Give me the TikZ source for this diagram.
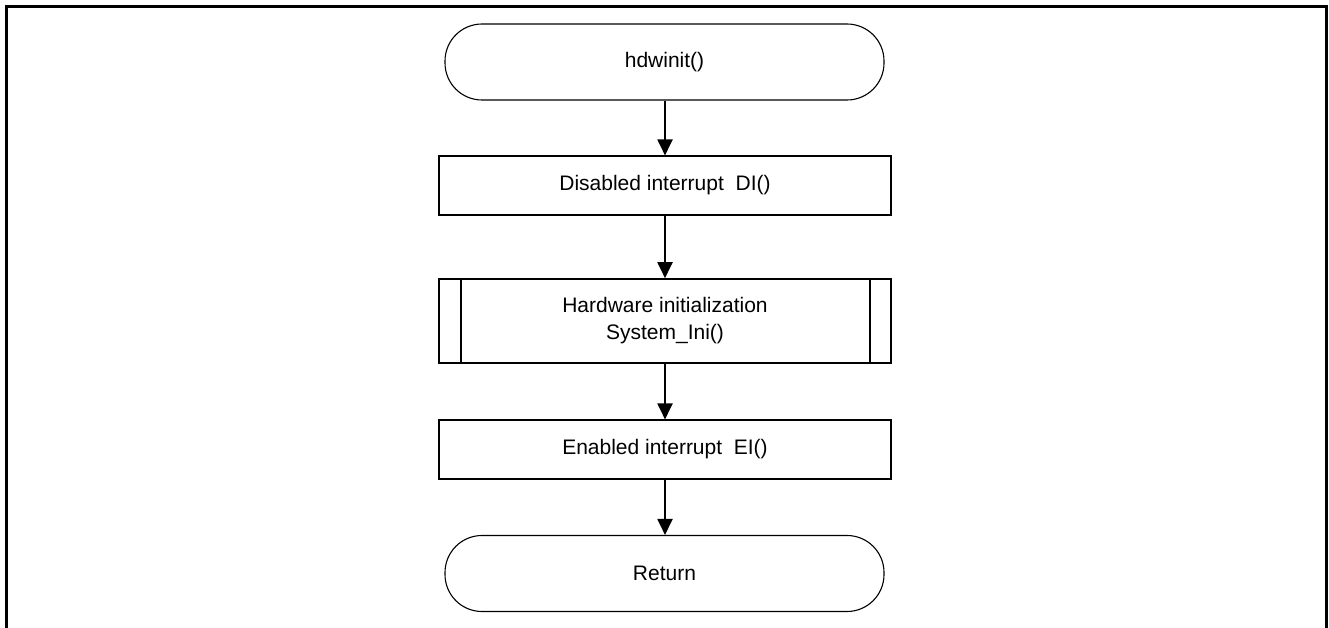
\documentclass[tikz,border=0pt]{standalone}
\usepackage{fontspec}
\setmainfont{Liberation Sans}
\usetikzlibrary{arrows.meta}
\tikzset{
  term/.style={draw, line width=1.1pt, rectangle, rounded corners=37pt,
    minimum width=439pt, minimum height=76pt, inner sep=0pt,
    font=\fontsize{21}{27}\selectfont},
  procbox/.style={draw, line width=1.1pt, rectangle,
    minimum width=452pt, minimum height=59pt, inner sep=0pt,
    font=\fontsize{21}{27}\selectfont},
  subproc/.style={procbox, line width=1.6pt, minimum height=84pt, align=center},
  flow/.style={line width=2pt, -{Triangle[width=15pt,length=16pt]}},
  frameline/.style={line width=3pt, line join=miter}
}
\begin{document}
\begin{tikzpicture}[x=1pt,y=-1pt]
  \useasboundingbox (0,0) rectangle (1329,628);
  % page frame, open at the bottom
  \coordinate (fbl) at (6.2,640);
  \coordinate (ftl) at (6.2,7);
  \coordinate (ftr) at (1326.5,7);
  \coordinate (fbr) at (1326.5,640);
  \draw[frameline] (fbl) -- (ftl) -- (ftr) -- (fbr);

  % flow chart
  \node[term] (start) at (664.5,62) {hdwinit()};
  \node[procbox] (di) at (665,185.5) {Disabled interrupt\ \ DI()};
  \node[subproc] (hw) at (665,321) {Hardware initialization\\System\_Ini()};
  \draw[line width=1.6pt] ([xshift=23pt]hw.north west) -- ([xshift=23pt]hw.south west);
  \draw[line width=1.6pt] ([xshift=-22pt]hw.north east) -- ([xshift=-22pt]hw.south east);
  \node[procbox] (ei) at (665,449.5) {Enabled interrupt\ \ EI()};
  \node[term] (ret) at (664.5,573.5) {Return};

  \draw[flow] (start.south -| di.north) -- (di.north);
  \draw[flow] (di.south) -- (hw.north);
  \draw[flow] (hw.south) -- (ei.north);
  \draw[flow] (ei.south) -- (ret.north -| ei.south);
\end{tikzpicture}
\end{document}
